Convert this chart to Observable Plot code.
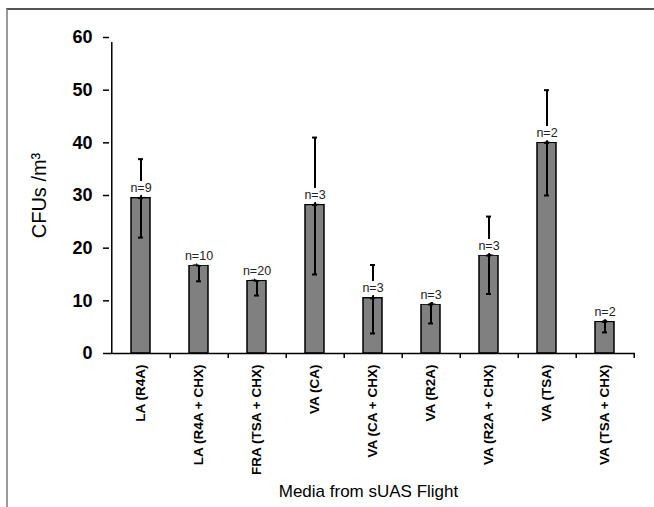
<!DOCTYPE html>
<html>
<head>
<meta charset="utf-8">
<script src="https://cdn.jsdelivr.net/npm/d3@7"></script>
<script src="https://cdn.jsdelivr.net/npm/@observablehq/plot@0.6"></script>
<style>
  html, body { margin: 0; padding: 0; background: #fff; }
  #wrap { position: relative; width: 654px; height: 507px; overflow: hidden; font-family: "Liberation Sans", Arial, sans-serif; }
  #border { position: absolute; left: 6px; top: 8px; right: -4px; bottom: -4px; border-top: 2px solid #555; border-left: 2px solid #999; pointer-events: none; }
  #chart svg { display: block; background: transparent; }
</style>
</head>
<body>
<div id="wrap"><div id="chart"></div><div id="border"></div></div>
<script>
const categories = ["LA (R4A)", "LA (R4A + CHX)", "FRA (TSA + CHX)", "VA (CA)", "VA (CA + CHX)", "VA (R2A)", "VA (R2A + CHX)", "VA (TSA)", "VA (TSA + CHX)"];
const means = [29.5, 16.7, 13.8, 28.2, 10.5, 9.3, 18.6, 40.0, 6.0];
const lows  = [22.0, 13.7, 11.0, 15.0, 3.8, 5.7, 11.3, 30.0, 4.0];
const highs = [36.9, 17.2, 14.2, 41.0, 16.8, 9.7, 26.0, 50.0, 6.4];
const counts = [9, 10, 20, 3, 3, 3, 3, 2, 2];
const yTicks = [0, 10, 20, 30, 40, 50, 60];
const yLabel = "CFUs /m³";
const xLabel = "Media from sUAS Flight";

const data = categories.map((c, i) => ({cat: c, mean: means[i], lo: lows[i], hi: highs[i], n: "n=" + counts[i]}));

const W = 654, H = 507, mL = 109, mR = 19, mT = 37, mB = 154;
const step = (W - mL - mR) / categories.length;
const font = "Liberation Sans, Arial, sans-serif";

const plot = Plot.plot({
  width: W, height: H,
  marginLeft: mL, marginRight: mR, marginTop: mT, marginBottom: mB,
  style: {fontFamily: font, background: "transparent", color: "#000"},
  x: {domain: categories, paddingInner: 0.675, paddingOuter: 0.3375, axis: null},
  y: {domain: [0, 60], axis: null},
  marks: [
    Plot.barY(data, {x: "cat", y: "mean", fill: "#808080", stroke: "#000", strokeWidth: 1.5}),
    Plot.ruleY([0], {stroke: "#000", strokeWidth: 1.5}),
    Plot.ruleX([categories[0]], {y1: 0, y2: 60, dx: -step / 2, insetBottom: -5, stroke: "#000", strokeWidth: 1.5}),
    Plot.axisY({ticks: yTicks, tickSize: 6, tickPadding: 11, fontSize: 18, fontWeight: "bold", label: null, stroke: "#000", strokeWidth: 1.5}),
    Plot.axisX({tickSize: 5, text: null, dx: step / 2, label: null, stroke: "#000", strokeWidth: 1.5}),
    Plot.axisX({tickSize: 0, tickPadding: 11, tickRotate: -90, fontSize: 13.5, fontWeight: "bold", label: null}),
    Plot.ruleX(data, {x: "cat", y1: "lo", y2: "hi", stroke: "#000", strokeWidth: 2}),
    Plot.tickY(data, {x: "cat", y: "lo", stroke: "#000", strokeWidth: 2, insetLeft: 7, insetRight: 7}),
    Plot.tickY(data, {x: "cat", y: "hi", stroke: "#000", strokeWidth: 2, insetLeft: 7, insetRight: 7}),
    Plot.tickY(data, {x: "cat", y: "mean", stroke: "#000", strokeWidth: 2, insetLeft: 7, insetRight: 7}),
    Plot.text(data, {x: "cat", y: "mean", text: "n", dy: -10, fontSize: 12.5, fill: "#222", stroke: "#fff", strokeWidth: 10, paintOrder: "stroke", strokeLinejoin: "round", lineAnchor: "middle"}),
    Plot.text([yLabel], {frameAnchor: "left", dx: -70, rotate: -90, textAnchor: "middle", fontSize: 20, fill: "#000"}),
    Plot.text([xLabel], {frameAnchor: "bottom", dy: 143, dx: -4, textAnchor: "middle", fontSize: 17, fill: "#000"})
  ]
});
document.getElementById("chart").appendChild(plot);
</script>
</body>
</html>
